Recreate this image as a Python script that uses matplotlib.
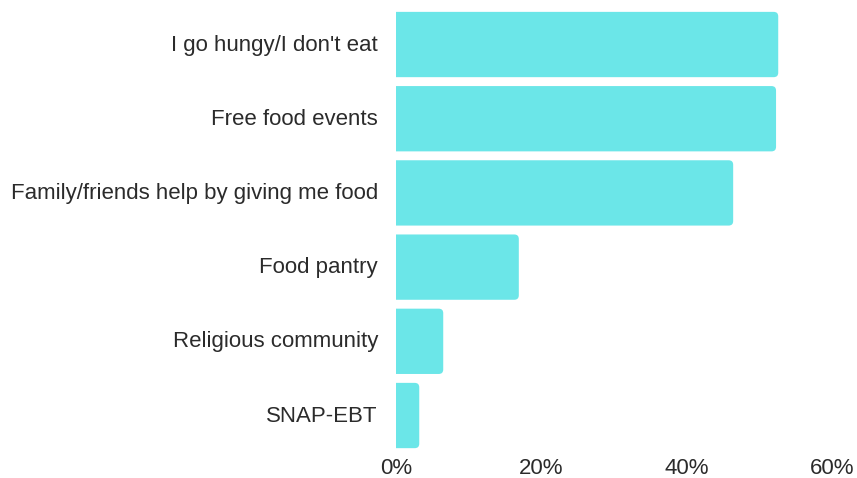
import matplotlib
matplotlib.use("Agg")
import matplotlib.pyplot as plt
import matplotlib.transforms as mtransforms
from matplotlib.patches import FancyBboxPatch
from matplotlib.ticker import FuncFormatter

categories = ["I go hungy/I don't eat", "Free food events",
              "Family/friends help by giving me food", "Food pantry",
              "Religious community", "SNAP-EBT"]
values = [52.6, 52.3, 46.4, 16.9, 6.5, 3.2]
xticks = [0, 20, 40, 60]

W, H = 857, 478
fig = plt.figure(figsize=(W/100, H/100), dpi=100)
left, right = 396 / W, 832 / W
bottom, top = 23.9 / H, 478 / H
ax = fig.add_axes([left, bottom, right - left, top - bottom])
ax.set_xlim(0, 60)
ax.set_ylim(-0.52, 5.6)

color = "#6BE6E8"
n = len(categories)
ypos = [n - 1 - i for i in range(n)]
bar_h = 0.88

ax_w_px = (right - left) * W
ax_h_px = (top - bottom) * H
x_per_px = 60 / ax_w_px
y_per_px = 6.12 / ax_h_px
r = 4.5 * x_per_px
aspect = y_per_px / x_per_px

for y, v in zip(ypos, values):
    p = FancyBboxPatch((-r * 2, y - bar_h / 2), v + r * 2, bar_h,
                       boxstyle=f"round,pad=0,rounding_size={r}",
                       mutation_aspect=aspect, facecolor=color,
                       edgecolor="none", linewidth=0)
    ax.add_patch(p)

ax.set_yticks(ypos)
ax.set_yticklabels(categories)
ax.set_xticks(xticks)
ax.xaxis.set_major_formatter(FuncFormatter(lambda v, p: f"{int(v)}%"))
for s in ax.spines.values():
    s.set_visible(False)
ax.tick_params(axis="y", length=0, pad=13, labelsize=16, labelcolor="#2b2b2b")
ax.tick_params(axis="x", length=0, pad=3, labelsize=16, labelcolor="#2b2b2b")
shift = mtransforms.ScaledTranslation(0, 2 / 100, fig.dpi_scale_trans)
for lab in ax.get_yticklabels():
    lab.set_fontfamily("Liberation Sans")
    lab.set_transform(lab.get_transform() + shift)
for lab in ax.get_xticklabels():
    lab.set_fontfamily("Liberation Sans")

fig.savefig("out.png", dpi=100)
